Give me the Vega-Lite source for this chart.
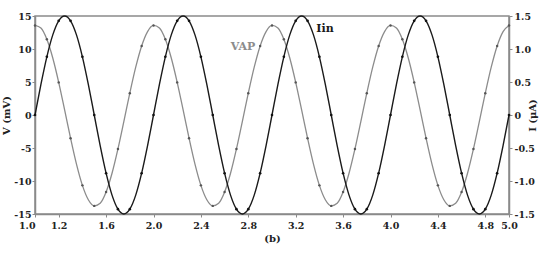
{
  "$schema": "https://vega.github.io/schema/vega-lite/v6.json",
  "width": 474,
  "height": 198,
  "autosize": {"type": "none"},
  "padding": {"left": 35, "top": 16, "right": 41, "bottom": 39},
  "background": "white",
  "config": {
    "view": {"stroke": "#8a8a8a", "strokeWidth": 1.5},
    "font": "DejaVu Serif",
    "axis": {
      "grid": false,
      "domainColor": "#8a8a8a",
      "domainWidth": 1.5,
      "tickColor": "#8a8a8a",
      "tickSize": 3,
      "labelFont": "DejaVu Serif",
      "labelFontWeight": "bold",
      "labelFontSize": 9.5,
      "labelColor": "#222222",
      "titleFont": "DejaVu Serif",
      "titleFontWeight": "bold",
      "titleFontSize": 10,
      "titleColor": "#222222"
    }
  },
  "datasets": {
    "curves": [
      {"t": 1.00, "V": 13.57, "I": 0}, {"t": 1.05, "V": 13.17, "I": 0.464}, {"t": 1.10, "V": 11.47, "I": 0.882}, {"t": 1.15, "V": 8.63, "I": 1.214},
      {"t": 1.20, "V": 4.94, "I": 1.427}, {"t": 1.25, "V": 0.76, "I": 1.5}, {"t": 1.30, "V": -3.51, "I": 1.427}, {"t": 1.35, "V": -7.44, "I": 1.214},
      {"t": 1.40, "V": -10.66, "I": 0.882}, {"t": 1.45, "V": -12.84, "I": 0.464}, {"t": 1.50, "V": -13.77, "I": 0}, {"t": 1.55, "V": -13.37, "I": -0.464},
      {"t": 1.60, "V": -11.67, "I": -0.882}, {"t": 1.65, "V": -8.83, "I": -1.214}, {"t": 1.70, "V": -5.14, "I": -1.427}, {"t": 1.75, "V": -0.96, "I": -1.5},
      {"t": 1.80, "V": 3.31, "I": -1.427}, {"t": 1.85, "V": 7.24, "I": -1.214}, {"t": 1.90, "V": 10.46, "I": -0.882}, {"t": 1.95, "V": 12.64, "I": -0.464},
      {"t": 2.00, "V": 13.57, "I": 0}, {"t": 2.05, "V": 13.17, "I": 0.464}, {"t": 2.10, "V": 11.47, "I": 0.882}, {"t": 2.15, "V": 8.63, "I": 1.214},
      {"t": 2.20, "V": 4.94, "I": 1.427}, {"t": 2.25, "V": 0.76, "I": 1.5}, {"t": 2.30, "V": -3.51, "I": 1.427}, {"t": 2.35, "V": -7.44, "I": 1.214},
      {"t": 2.40, "V": -10.66, "I": 0.882}, {"t": 2.45, "V": -12.84, "I": 0.464}, {"t": 2.50, "V": -13.77, "I": 0}, {"t": 2.55, "V": -13.37, "I": -0.464},
      {"t": 2.60, "V": -11.67, "I": -0.882}, {"t": 2.65, "V": -8.83, "I": -1.214}, {"t": 2.70, "V": -5.14, "I": -1.427}, {"t": 2.75, "V": -0.96, "I": -1.5},
      {"t": 2.80, "V": 3.31, "I": -1.427}, {"t": 2.85, "V": 7.24, "I": -1.214}, {"t": 2.90, "V": 10.46, "I": -0.882}, {"t": 2.95, "V": 12.64, "I": -0.464},
      {"t": 3.00, "V": 13.57, "I": 0}, {"t": 3.05, "V": 13.17, "I": 0.464}, {"t": 3.10, "V": 11.47, "I": 0.882}, {"t": 3.15, "V": 8.63, "I": 1.214},
      {"t": 3.20, "V": 4.94, "I": 1.427}, {"t": 3.25, "V": 0.76, "I": 1.5}, {"t": 3.30, "V": -3.51, "I": 1.427}, {"t": 3.35, "V": -7.44, "I": 1.214},
      {"t": 3.40, "V": -10.66, "I": 0.882}, {"t": 3.45, "V": -12.84, "I": 0.464}, {"t": 3.50, "V": -13.77, "I": 0}, {"t": 3.55, "V": -13.37, "I": -0.464},
      {"t": 3.60, "V": -11.67, "I": -0.882}, {"t": 3.65, "V": -8.83, "I": -1.214}, {"t": 3.70, "V": -5.14, "I": -1.427}, {"t": 3.75, "V": -0.96, "I": -1.5},
      {"t": 3.80, "V": 3.31, "I": -1.427}, {"t": 3.85, "V": 7.24, "I": -1.214}, {"t": 3.90, "V": 10.46, "I": -0.882}, {"t": 3.95, "V": 12.64, "I": -0.464},
      {"t": 4.00, "V": 13.57, "I": 0}, {"t": 4.05, "V": 13.17, "I": 0.464}, {"t": 4.10, "V": 11.47, "I": 0.882}, {"t": 4.15, "V": 8.63, "I": 1.214},
      {"t": 4.20, "V": 4.94, "I": 1.427}, {"t": 4.25, "V": 0.76, "I": 1.5}, {"t": 4.30, "V": -3.51, "I": 1.427}, {"t": 4.35, "V": -7.44, "I": 1.214},
      {"t": 4.40, "V": -10.66, "I": 0.882}, {"t": 4.45, "V": -12.84, "I": 0.464}, {"t": 4.50, "V": -13.77, "I": 0}, {"t": 4.55, "V": -13.37, "I": -0.464},
      {"t": 4.60, "V": -11.67, "I": -0.882}, {"t": 4.65, "V": -8.83, "I": -1.214}, {"t": 4.70, "V": -5.14, "I": -1.427}, {"t": 4.75, "V": -0.96, "I": -1.5},
      {"t": 4.80, "V": 3.31, "I": -1.427}, {"t": 4.85, "V": 7.24, "I": -1.214}, {"t": 4.90, "V": 10.46, "I": -0.882}, {"t": 4.95, "V": 12.64, "I": -0.464},
      {"t": 5.00, "V": 13.57, "I": 0}
    ]
  },
  "encoding": {
    "x": {
      "field": "t",
      "type": "quantitative",
      "scale": {"domain": [1, 5], "nice": false, "zero": false},
      "axis": {
        "values": [1, 1.2, 1.6, 2, 2.4, 2.8, 3.2, 3.6, 4, 4.4, 4.8, 5],
        "format": ".1f",
        "labelPadding": 3,
        "labelAlign": {"condition": {"test": "datum.value == 1", "value": "right"}, "value": "center"},
        "title": "(b)",
        "titlePadding": 4
      }
    }
  },
  "layer": [
    {
      "encoding": {
        "y": {
          "field": "V",
          "type": "quantitative",
          "scale": {"domain": [-15, 15], "nice": false},
          "axis": {
            "orient": "left",
            "values": [-15, -10, -5, 0, 5, 10, 15],
            "labelExpr": "datum.value + ''",
            "labelPadding": 1,
            "title": "V (mV)",
            "titlePadding": 2
          }
        }
      },
      "layer": [
        {
          "data": {"name": "curves"},
          "mark": {"type": "line", "color": "#8c8c8c", "strokeWidth": 1.3, "interpolate": "monotone"}
        },
        {
          "data": {"name": "curves"},
          "transform": [{"filter": "round(datum.t * 20) % 2 == 0"}],
          "mark": {"type": "point", "shape": "circle", "filled": true, "size": 6, "color": "#555555", "opacity": 1}
        },
        {
          "data": {"values": [{"t": 2.755, "V": 10.35, "label": "VAP"}]},
          "mark": {"type": "text", "font": "DejaVu Serif", "fontWeight": "bold", "fontSize": 11, "color": "#8c8c8c", "align": "center", "baseline": "middle"},
          "encoding": {"text": {"field": "label"}}
        }
      ]
    },
    {
      "encoding": {
        "y": {
          "field": "I",
          "type": "quantitative",
          "scale": {"domain": [-1.5, 1.5], "nice": false},
          "axis": {
            "orient": "right",
            "values": [-1.5, -1, -0.5, 0, 0.5, 1, 1.5],
            "labelExpr": "datum.value == 0 ? '0' : (datum.value < 0 ? '-' : '') + format(abs(datum.value), '.1f')",
            "labelPadding": 2,
            "title": "I (μA)",
            "titleAngle": 270,
            "titlePadding": 3
          }
        }
      },
      "layer": [
        {
          "data": {"name": "curves"},
          "mark": {"type": "line", "color": "#1a1a1a", "strokeWidth": 1.4, "interpolate": "monotone"}
        },
        {
          "data": {"name": "curves"},
          "transform": [{"filter": "round(datum.t * 20) % 2 == 0"}],
          "mark": {"type": "point", "shape": "circle", "filled": true, "size": 7, "color": "#111111", "opacity": 1}
        },
        {
          "data": {"values": [{"t": 3.447, "I": 1.3, "label": "Iin"}]},
          "mark": {"type": "text", "font": "DejaVu Serif", "fontWeight": "bold", "fontSize": 11, "color": "#1a1a1a", "align": "center", "baseline": "middle"},
          "encoding": {"text": {"field": "label"}}
        }
      ]
    }
  ],
  "resolve": {"scale": {"y": "independent"}}
}
